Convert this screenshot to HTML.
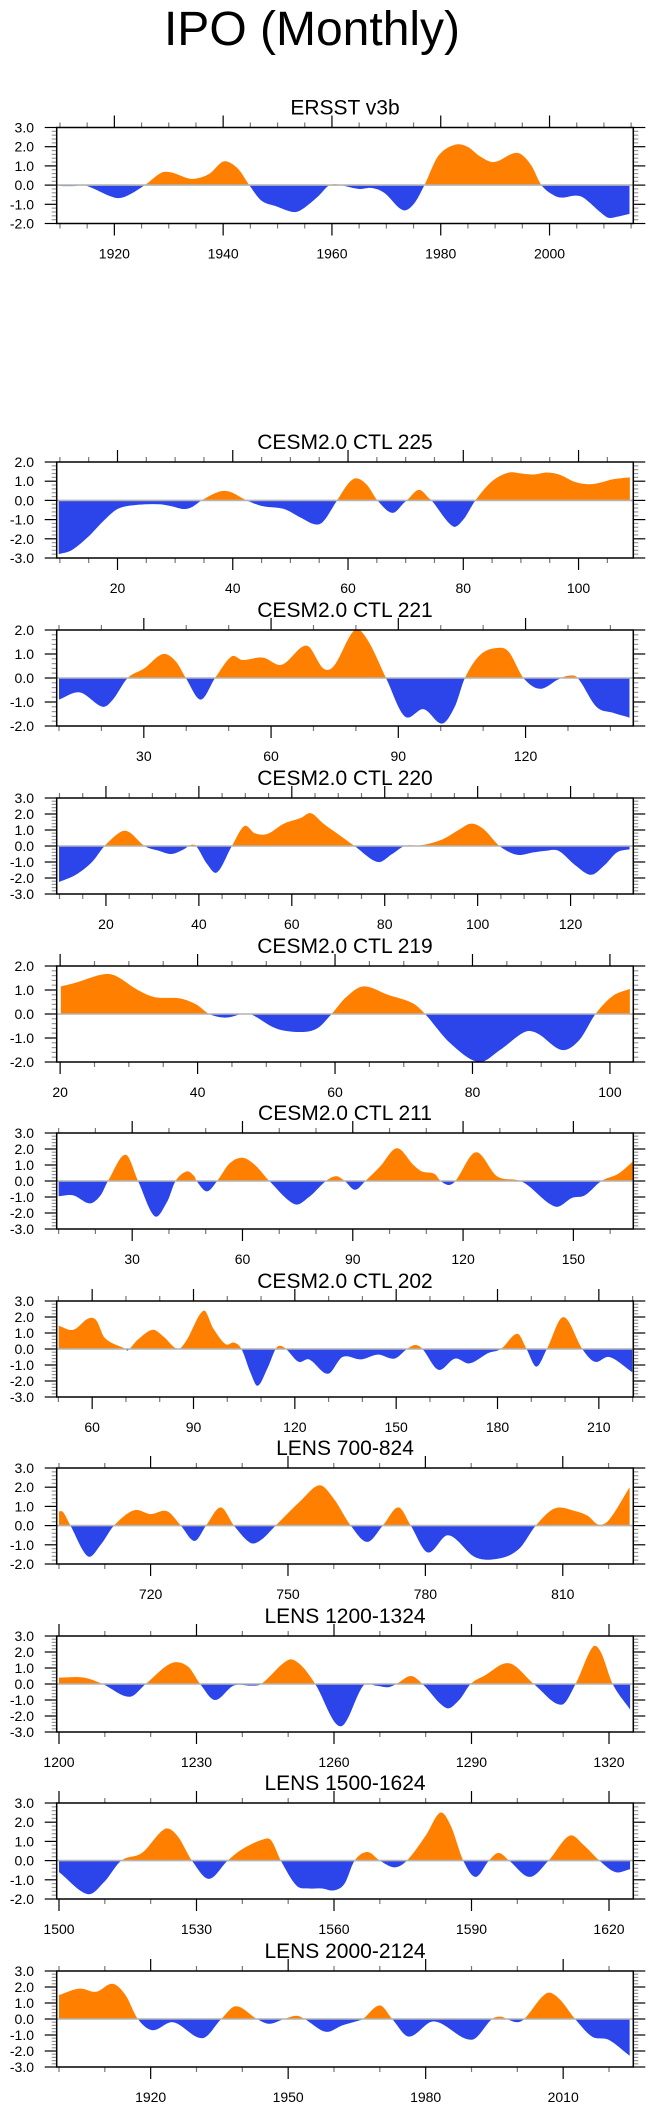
<!DOCTYPE html>
<html><head><meta charset="utf-8"><title>IPO (Monthly)</title>
<style>html,body{margin:0;padding:0;background:#fff;width:654px;height:2110px;overflow:hidden}
svg{display:block;font-family:"Liberation Sans",Arial,sans-serif}</style></head>
<body>
<svg id="fig" width="654" height="2110" viewBox="0 0 654 2110" xmlns="http://www.w3.org/2000/svg">
<text x="312" y="45" font-size="48" text-anchor="middle" fill="#000">IPO (Monthly)</text>
</svg>
<script>
// ---- data (x, value) ----
const ersstX=[1910,1912.6,1914.5,1920,1922,1925.6,1928.7,1930.6,1933.6,1935.2,1937.5,1939.8,1941,1942.9,1944.8,1947,1949.7,1952.8,1954.3,1957.4,1959.3,1960.5,1961.6,1965,1967.3,1969.6,1973,1975,1977,1979.5,1982.6,1984.9,1987.2,1989.8,1993.3,1994.8,1996.7,1998.5,2000.9,2002.4,2004.7,2006.2,2009.3,2010.8,2012.4,2014.7];
const ersstV=[-0.05,-0.05,0,-0.65,-0.6,0,0.65,0.65,0.35,0.35,0.6,1.2,1.2,0.8,0,-0.8,-1.1,-1.4,-1.3,-0.6,-0.05,0.05,0,-0.2,-0.15,-0.4,-1.3,-1.0,0,1.5,2.1,2.0,1.5,1.2,1.65,1.6,1.0,0,-0.55,-0.65,-0.55,-0.65,-1.4,-1.7,-1.65,-1.5];
const c225X=[9.8,12,14.9,17.8,20,22.8,27.2,29.3,31.5,32.9,34.6,37.6,39.5,42.4,45.2,48.9,51.8,54.3,55.7,58.1,60.1,61.5,63.3,65.1,67.7,69.8,70.2,72.3,74.1,74.5,78.2,80,82.1,85,87.9,90.1,92.3,94.4,96.6,99.5,102.4,106,108.9];
const c225V=[-2.8,-2.6,-1.9,-1.0,-0.45,-0.25,-0.2,-0.3,-0.45,-0.35,0,0.45,0.45,0,-0.3,-0.45,-0.9,-1.25,-1.1,0,0.9,1.15,0.8,0,-0.65,-0.1,0,0.55,0.1,0,-1.35,-1.0,0,1.0,1.45,1.4,1.35,1.45,1.35,0.95,0.85,1.1,1.2];
const c221X=[10,14.9,20.3,22.7,26.2,30.1,34.5,37.5,39.9,43.4,46.8,50.7,53.2,58.1,62.5,68.4,72.3,74.8,79.7,82.7,87.1,91.5,96,100.3,103.3,105.7,109.2,113.1,116,119.5,123.4,127.8,130.3,132.3,136.7,140.6,144.5];
const c221V=[-0.9,-0.6,-1.2,-0.9,0,0.4,1.0,0.7,0,-0.9,0,0.9,0.75,0.85,0.55,1.35,0.4,0.5,2.0,1.6,0,-1.6,-1.3,-1.9,-1.2,0,0.95,1.25,1.1,0,-0.45,-0.05,0.1,0,-1.2,-1.45,-1.65];
const c220X=[9.9,13.5,17,19.7,23.3,25.1,28.3,31.4,34.1,36.8,38.1,39.4,41.7,43.9,47.1,49.8,52,54.7,58.3,61.9,64.1,66.8,70.4,73.5,78.5,81.6,84.3,87.9,92.3,95.9,98.6,101.3,104.7,108.5,112,114.7,117.4,121,124.4,127.3,130,132.7];
const c220V=[-2.25,-1.8,-1.0,0,0.9,0.85,0,-0.3,-0.5,-0.2,0.05,0,-1.1,-1.65,0,1.25,0.8,0.75,1.4,1.75,2.05,1.4,0.65,0,-1.0,-0.5,0,0.05,0.4,1.0,1.4,1.05,0,-0.55,-0.4,-0.3,-0.3,-1.2,-1.8,-1.2,-0.4,-0.2];
const c219X=[20.1,22.2,26.2,28,31.3,33.8,37.4,39.8,41.7,44.1,46.5,47.7,51.4,55,57.4,59.5,61.6,64.1,67.7,71.3,73.1,76.7,80.9,84,87.6,89.4,93,95.5,97.9,100.4,102.9];
const c219V=[1.15,1.3,1.65,1.6,1.0,0.7,0.65,0.4,0,-0.15,0,0,-0.6,-0.75,-0.6,0,0.7,1.15,0.8,0.45,0,-1.2,-2.0,-1.5,-0.75,-0.8,-1.5,-1.1,0,0.75,1.05];
const c211X=[10,14,18.5,21.4,23.4,28.2,31.6,36.1,39.5,41.8,44.9,46.9,47.5,50.3,53.1,56.5,60,63.4,67.3,74.2,78.1,82.7,85.5,87.8,90.6,93.4,97.4,102,106.5,108.8,112.2,113.9,116.1,117.9,123.5,129.2,134.9,137.2,145.1,149.7,153.1,157.6,162.2,166.1];
const c211V=[-0.95,-0.9,-1.4,-0.9,0,1.65,0,-2.2,-1.3,0,0.6,0.3,0,-0.65,0,1.1,1.45,1.0,0,-1.45,-1.0,0,0.3,0,-0.55,0,0.9,2.05,1.0,0.6,0.45,0,-0.25,0,1.8,0.3,0.05,-0.2,-1.6,-1.05,-0.9,0,0.45,1.2];
const c202X=[50.1,54.4,58.8,61.2,63.7,69.9,70.5,73.6,77.9,81,85.3,87.8,93,95.8,99.5,102,104.2,106.9,109,111.9,114.3,115.6,117.4,121.1,124.2,129.8,134.1,139.6,144.6,149.5,153.2,155.7,157.8,162.5,167.4,171.7,177.3,181,185.9,188.6,191.5,194.6,199.5,205.1,208.8,213.1,219.9];
const c202V=[1.45,1.2,1.9,1.8,0.7,0,-0.1,0.6,1.2,0.8,0,0.5,2.4,1.3,0.3,0.4,0,-1.5,-2.3,-1.2,0,0.2,0,-0.8,-0.65,-1.55,-0.5,-0.65,-0.35,-0.6,0,0.25,0,-1.3,-0.6,-0.9,-0.25,0,0.95,0,-1.1,0,2.0,0,-0.8,-0.5,-1.45];
const l700X=[700,700.9,702.5,706.3,709.1,712,716.4,720,723.6,726.6,729.6,732.1,735.3,738.2,741.8,744.1,747.3,752.8,756.9,760,763.7,767.3,770.7,774.1,776.8,780.5,785,790.9,796.4,800.5,804.1,808.3,812.8,815.5,817.8,820.1,824.6];
const l700V=[0.75,0.7,0,-1.6,-1.0,0,0.8,0.6,0.75,0,-0.8,0,0.95,0,-0.9,-0.75,0,1.3,2.1,1.4,0,-0.85,0,0.95,0,-1.4,-0.5,-1.65,-1.7,-1.2,0,0.9,0.75,0.5,0.05,0.3,2.0];
const l1200X=[1200,1205.4,1209.5,1215.4,1218.9,1224.5,1228.1,1230.8,1234,1238.1,1241.8,1244.1,1250,1252.7,1255.9,1261.4,1266.4,1269.1,1271.8,1273.6,1276.8,1279.3,1284.5,1287.3,1289.8,1292.7,1298.2,1303.6,1309.6,1312.7,1316.4,1318.2,1320.8,1324.6];
const l1200V=[0.4,0.4,0,-0.8,0,1.3,1.1,0,-1.0,-0.1,-0.1,0,1.5,1.2,0,-2.65,-0.1,-0.1,-0.2,0,0.5,0,-1.5,-1.0,0,0.5,1.3,0,-1.3,0,2.3,2.0,0,-1.6];
const l1500X=[1500,1506.3,1509.9,1513.6,1518.1,1523.1,1525.8,1529,1532.7,1536.8,1540,1544.5,1546.3,1548.4,1551.8,1554.5,1557.3,1560,1562.3,1564.5,1567.3,1570,1573.2,1575.9,1580,1583.2,1585.5,1588.2,1590.9,1593.8,1595.9,1598.2,1602.7,1606.8,1611.4,1614.5,1617.9,1621.4,1624.6];
const l1500V=[-0.6,-1.75,-1.1,0,0.4,1.65,1.3,0,-0.95,0,0.6,1.1,1.05,0,-1.3,-1.45,-1.45,-1.55,-1.2,0,0.45,0,-0.35,0,1.3,2.5,1.8,0,-0.85,0,0.4,0,-0.85,0,1.3,0.8,0,-0.6,-0.45];
const l2000X=[1900,1904.5,1908.1,1911.7,1914.5,1917.2,1920.4,1924.9,1931.3,1935.4,1938.6,1943.2,1945.9,1949.1,1951.8,1953.6,1958.2,1961.8,1965.4,1966.3,1970,1972.7,1976.3,1981.8,1990,1994.5,1996.4,1997.7,1999.9,2001.5,2006.3,2009,2012.6,2016.3,2019.9,2024.5];
const l2000V=[1.5,1.9,1.7,2.2,1.5,0,-0.7,-0.2,-1.2,0,0.8,0,-0.3,0,0.2,0,-0.8,-0.4,-0.1,0,0.85,0,-1.1,-0.15,-1.3,0,0.15,0,-0.2,0,1.6,1.3,0,-1.1,-1.3,-2.3];
const titles=["ERSST v3b","CESM2.0 CTL 225","CESM2.0 CTL 221","CESM2.0 CTL 220","CESM2.0 CTL 219","CESM2.0 CTL 211","CESM2.0 CTL 202","LENS 700-824","LENS 1200-1324","LENS 1500-1624","LENS 2000-2124"];
const xTickLabelsShift=[0,0,0,0,0,0,0,0,0,0,100]; // LENS 2000 axis labelled 1920..2010

// ---- layout ----
const NS="http://www.w3.org/2000/svg";
const svg=document.getElementById('fig');
const FL=56.7, FR=633.3, FH=96;
const panels=[
 {x:ersstX,v:ersstV,top:127.5,xmin:1909.4,xmax:2015.4,ymin:-2,ymax:3,maj:20,mnr:5,first:1920},
 {x:c225X,v:c225V,top:462,xmin:9.45,xmax:109.5,ymin:-3,ymax:2,maj:20,mnr:5,first:20},
 {x:c221X,v:c221V,top:630,xmin:9.46,xmax:145.4,ymin:-2,ymax:2,maj:30,mnr:10,first:30},
 {x:c220X,v:c220V,top:798,xmin:9.4,xmax:133.5,ymin:-3,ymax:3,maj:20,mnr:5,first:20},
 {x:c219X,v:c219V,top:966,xmin:19.5,xmax:103.4,ymin:-2,ymax:2,maj:20,mnr:5,first:20},
 {x:c211X,v:c211V,top:1133,xmin:9.47,xmax:166.3,ymin:-3,ymax:3,maj:30,mnr:10,first:30},
 {x:c202X,v:c202V,top:1301,xmin:49.5,xmax:220.2,ymin:-3,ymax:3,maj:30,mnr:10,first:60},
 {x:l700X,v:l700V,top:1468,xmin:699.5,xmax:825.4,ymin:-2,ymax:3,maj:30,mnr:10,first:720},
 {x:l1200X,v:l1200V,top:1636,xmin:1199.5,xmax:1325.3,ymin:-3,ymax:3,maj:30,mnr:10,first:1200},
 {x:l1500X,v:l1500V,top:1803,xmin:1499.5,xmax:1625.3,ymin:-2,ymax:3,maj:30,mnr:10,first:1500},
 {x:l2000X,v:l2000V,top:1971,xmin:1899.5,xmax:2025.3,ymin:-3,ymax:3,maj:30,mnr:10,first:1920}
];
function mk(tag,attrs,parent){const e=document.createElementNS(NS,tag);for(const k in attrs)e.setAttribute(k,attrs[k]);(parent||svg).appendChild(e);return e;}
function spline(xs,ys,n){ // Catmull-Rom sampling between read points
  const out=[];
  for(let i=0;i<xs.length-1;i++){
    const x0=xs[Math.max(i-1,0)],x1=xs[i],x2=xs[i+1],x3=xs[Math.min(i+2,xs.length-1)];
    const y0=ys[Math.max(i-1,0)],y1=ys[i],y2=ys[i+1],y3=ys[Math.min(i+2,ys.length-1)];
    const m1=(y2-y0)/((x2-x0)||1)*(x2-x1), m2=(y3-y1)/((x3-x1)||1)*(x2-x1);
    for(let k=0;k<n;k++){const t=k/n,t2=t*t,t3=t2*t;
      const y=(2*t3-3*t2+1)*y1+(t3-2*t2+t)*m1+(-2*t3+3*t2)*y2+(t3-t2)*m2;
      out.push([x1+(x2-x1)*t,y]);}
  }
  out.push([xs[xs.length-1],ys[ys.length-1]]);return out;
}
panels.forEach((p,i)=>{
  const top=p.top,bot=top+FH;
  const sx=x=>FL+(x-p.xmin)/(p.xmax-p.xmin)*(FR-FL);
  const sy=v=>top+(p.ymax-v)/(p.ymax-p.ymin)*FH;
  const g=mk('g',{});
  
  
  const t=mk('text',{x:(FL+FR)/2,y:top-13,'font-size':21,'text-anchor':'middle'},g);t.textContent=titles[i];
  
  
  // area
  const pts=spline(p.x,p.v,12);
  let d='M'+sx(pts[0][0]).toFixed(2)+','+sy(0).toFixed(2);
  pts.forEach(q=>{d+='L'+sx(q[0]).toFixed(2)+','+sy(q[1]).toFixed(2);});
  d+='L'+sx(pts[pts.length-1][0]).toFixed(2)+','+sy(0).toFixed(2)+'Z';
  const cpA=mk('clipPath',{id:'ca'+i},g);mk('rect',{x:FL,y:top,width:FR-FL,height:sy(0)-top},cpA);
  const cpB=mk('clipPath',{id:'cb'+i},g);mk('rect',{x:FL,y:sy(0),width:FR-FL,height:bot-sy(0)},cpB);
  const pa=mk('path',{d:d,fill:'#ff8000','clip-path':'url(#ca'+i+')'},g);
  
  
  const pb=mk('path',{d:d,fill:'#2b45eb','clip-path':'url(#cb'+i+')'},g);
  
  
  const zl=mk('line',{x1:FL,x2:FR,y1:sy(0),y2:sy(0),stroke:'#b4b4b4','stroke-width':1.6},g);
  
  
  // y ticks
  for(let v=p.ymin;v<=p.ymax+1e-6;v+=0.2){
    const yy=sy(v),isMaj=Math.abs(v-Math.round(v))<1e-6;
    const L=isMaj?12:5,col=isMaj?'#000':'#999';
    mk('line',{x1:FL-L,x2:FL,y1:yy,y2:yy,stroke:col,'stroke-width':1.2},g);
    mk('line',{x1:FR,x2:FR+L,y1:yy,y2:yy,stroke:col,'stroke-width':1.2},g);
    if(isMaj){const tl=mk('text',{x:34,y:yy+5,'font-size':14,'text-anchor':'end'},g);
      tl.textContent=Math.round(v).toFixed(1);
      
      }
  }
  // x ticks
  const start=Math.ceil(p.xmin/p.mnr)*p.mnr;
  for(let x=start;x<=p.xmax;x+=p.mnr){
    const xx=sx(x),isMaj=((x-p.first)%p.maj===0)&&x>=p.first;
    const L=isMaj?12:5;
    mk('line',{x1:xx,x2:xx,y1:top-L,y2:top,stroke:isMaj?'#000':'#777','stroke-width':1.2},g);
    mk('line',{x1:xx,x2:xx,y1:bot,y2:bot+L,stroke:isMaj?'#000':'#777','stroke-width':1.2},g);
    if(isMaj){const tl=mk('text',{x:xx,y:bot+35,'font-size':14,'text-anchor':'middle'},g);
      tl.textContent=String(x);
      
      }
  }
  const fr=mk('rect',{x:FL,y:top,width:FR-FL,height:FH,fill:'none',stroke:'#000','stroke-width':1.5},g);
  
  
});
</script>
</body></html>
